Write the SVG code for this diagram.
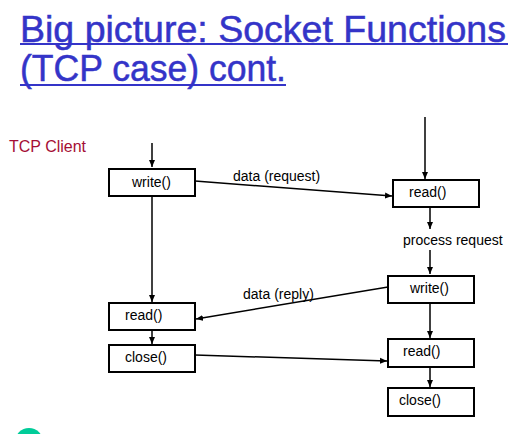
<svg xmlns="http://www.w3.org/2000/svg" width="516" height="434" viewBox="0 0 516 434">
<defs>
<marker id="ah" markerWidth="8" markerHeight="8" refX="7" refY="4" orient="auto" markerUnits="userSpaceOnUse">
<path d="M0,1 L7,4 L0,7 Z" fill="#000"/>
</marker>
<style>
.title{font-family:"Liberation Sans",Arial,sans-serif;font-size:37px;fill:#3434c8;stroke:#3434c8;stroke-width:0.5}
.ul{stroke:#3434c8;stroke-width:2}
.box{fill:#fff;stroke:#000;stroke-width:2}
.lbl{font-family:"Liberation Sans",Arial,sans-serif;font-size:14px;fill:#000}
.arr{stroke:#000;stroke-width:1.5;fill:none;marker-end:url(#ah)}
</style>
</defs>
<rect width="516" height="434" fill="#fff"/>
<g id="title">
<text class="title" x="20" y="42" textLength="486" lengthAdjust="spacingAndGlyphs">Big picture: Socket Functions</text>
<line class="ul" x1="20" y1="44" x2="508" y2="44"/>
<text class="title" x="20" y="81" textLength="266" lengthAdjust="spacingAndGlyphs">(TCP case) cont.</text>
<line class="ul" x1="20" y1="85" x2="286" y2="85"/>
</g>
<g id="tcp-client-label">
<text x="9" y="152" font-family="Liberation Sans, Arial, sans-serif" font-size="16" fill="#a50e35">TCP Client</text>
</g>
<g id="connectors">
<line class="arr" x1="152" y1="143" x2="152" y2="167"/>
<line class="arr" x1="152" y1="196" x2="152" y2="302"/>
<line class="arr" x1="152" y1="330" x2="152" y2="344"/>
<line class="arr" x1="425" y1="117" x2="425" y2="179"/>
<line class="arr" x1="430" y1="207" x2="430" y2="229"/>
<line class="arr" x1="430" y1="250" x2="430" y2="274"/>
<line class="arr" x1="430" y1="303" x2="430" y2="338"/>
<line class="arr" x1="430" y1="367" x2="430" y2="387"/>
<line class="arr" x1="195" y1="181" x2="392" y2="196"/>
<line class="arr" x1="388" y1="287" x2="196" y2="319"/>
<line class="arr" x1="195" y1="355" x2="387" y2="361"/>
<text class="lbl" x="233" y="181">data (request)</text>
<text class="lbl" x="243" y="299">data (reply)</text>
<text class="lbl" x="403" y="245">process request</text>
</g>
<g id="client-write">
<rect class="box" x="109" y="169" width="86" height="27"/>
<text class="lbl" x="132" y="187">write()</text>
</g>
<g id="client-read">
<rect class="box" x="109" y="303" width="86" height="27"/>
<text class="lbl" x="125" y="320">read()</text>
</g>
<g id="client-close">
<rect class="box" x="109" y="345" width="86" height="27"/>
<text class="lbl" x="125" y="362">close()</text>
</g>
<g id="server-read1">
<rect class="box" x="393" y="180" width="86" height="27"/>
<text class="lbl" x="409" y="197">read()</text>
</g>
<g id="server-write">
<rect class="box" x="388" y="276" width="86" height="27"/>
<text class="lbl" x="410" y="293">write()</text>
</g>
<g id="server-read2">
<rect class="box" x="388" y="339" width="86" height="28"/>
<text class="lbl" x="403" y="356">read()</text>
</g>
<g id="server-close">
<rect class="box" x="388" y="388" width="86" height="28"/>
<text class="lbl" x="399" y="405">close()</text>
</g>
<g id="bullet">
<circle cx="29" cy="442" r="14" fill="#00cc99"/>
</g>
</svg>
